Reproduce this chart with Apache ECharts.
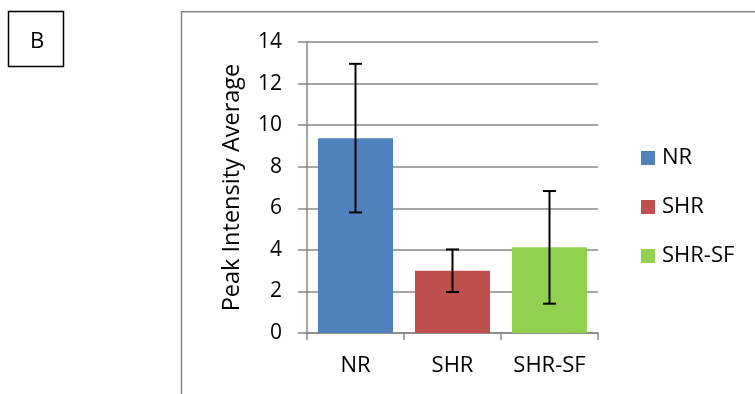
<!DOCTYPE html>
<html>
<head>
<meta charset="utf-8">
<script src="https://cdn.jsdelivr.net/npm/echarts@6/dist/echarts.min.js"></script>
<style>
html,body{margin:0;padding:0;background:#fff;}
#c{width:755px;height:394px;}
</style>
</head>
<body>
<div id="c"></div>
<script>
var categories = ['NR', 'SHR', 'SHR-SF'];
var means = [9.37, 2.99, 4.13];
var errLow = [5.80, 1.97, 1.41];
var errHigh = [12.95, 4.02, 6.83];
var yTicks = [0, 2, 4, 6, 8, 10, 12, 14];
var colors = ['#4F81BD', '#C0504D', '#92D050'];

var chart = echarts.init(document.getElementById('c'), null, {renderer: 'canvas'});
var FONT = 'Open Sans';
var GRAY = '#878787';

var barSeries = categories.map(function (name, i) {
  var d = categories.map(function (c, j) { return j === i ? means[j] : '-'; });
  return {
    name: name,
    type: 'bar',
    data: d,
    barWidth: 75,
    barGap: '-100%',
    itemStyle: {color: colors[i]},
    silent: true
  };
});

var errData = categories.map(function (c, i) { return [i, errLow[i], errHigh[i]]; });

var errSeries = {
  type: 'custom',
  data: errData,
  z: 10,
  silent: true,
  renderItem: function (params, api) {
    var x = api.value(0);
    var lo = api.coord([x, api.value(1)]);
    var hi = api.coord([x, api.value(2)]);
    var half = 6.5;
    var style = {stroke: '#000', lineWidth: 2};
    return {
      type: 'group',
      children: [
        {type: 'line', shape: {x1: lo[0], y1: lo[1], x2: hi[0], y2: hi[1]}, style: style},
        {type: 'line', shape: {x1: hi[0] - half, y1: hi[1], x2: hi[0] + half, y2: hi[1]}, style: style},
        {type: 'line', shape: {x1: lo[0] - half, y1: lo[1], x2: lo[0] + half, y2: lo[1]}, style: style}
      ]
    };
  }
};

chart.setOption({
  animation: false,
  backgroundColor: '#fff',
  textStyle: {fontFamily: FONT},
  grid: {left: 307, right: 157, top: 42, bottom: 61, containLabel: false},
  legend: {
    data: categories,
    orient: 'vertical',
    left: 641,
    top: 147,
    padding: 0,
    itemWidth: 14,
    itemHeight: 14,
    itemGap: 27,
    icon: 'rect',
    textStyle: {fontFamily: FONT, fontSize: 22, color: '#000', padding: [0, 0, 0, 2]},
    selectedMode: false
  },
  xAxis: {
    type: 'category',
    data: categories,
    axisLine: {lineStyle: {color: GRAY, width: 1.5}},
    axisTick: {show: true, length: 7, lineStyle: {color: GRAY, width: 1.5}},
    axisLabel: {fontFamily: FONT, fontSize: 22, color: '#000', margin: 22}
  },
  yAxis: {
    type: 'value',
    min: yTicks[0],
    max: yTicks[yTicks.length - 1],
    interval: 2,
    name: 'Peak Intensity Average',
    nameLocation: 'middle',
    nameGap: 63,
    nameRotate: 90,
    nameTextStyle: {fontFamily: FONT, fontSize: 23.5, color: '#000'},
    axisLine: {show: true, lineStyle: {color: GRAY, width: 1.5}},
    axisTick: {show: true, length: 9, lineStyle: {color: GRAY, width: 1.5}},
    axisLabel: {fontFamily: FONT, fontSize: 21, color: '#000', margin: 25},
    splitLine: {show: true, lineStyle: {color: GRAY, width: 1.5}}
  },
  graphic: [
    {type: 'rect', shape: {x: 181.5, y: 11.7, width: 700, height: 500},
     style: {fill: 'none', stroke: GRAY, lineWidth: 1.5}, silent: true, z: -1},
    {type: 'rect', shape: {x: 8.5, y: 11.5, width: 55, height: 55},
     style: {fill: '#fff', stroke: '#000', lineWidth: 1.5}, silent: true},
    {type: 'text', x: 37, y: 41.5, style: {text: 'B', font: '22px "Open Sans"', fill: '#000', align: 'center', verticalAlign: 'middle'}, silent: true}
  ],
  series: barSeries.concat([errSeries])
});
</script>
</body>
</html>
